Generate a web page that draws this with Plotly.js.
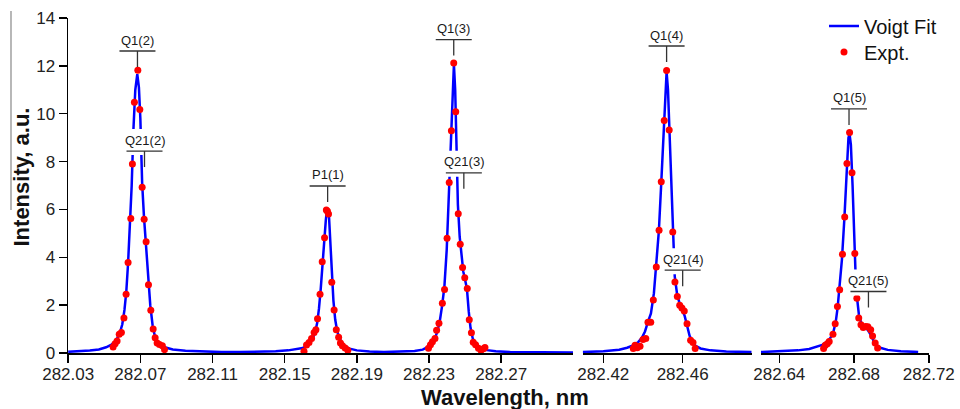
<!DOCTYPE html>
<html><head><meta charset="utf-8">
<script src="https://cdn.plot.ly/plotly-3.0.1.min.js"></script>
<style>html,body{margin:0;padding:0;background:#fff}#chart{width:960px;height:409px}</style>
</head><body><div id="chart"></div>
<script>
// ---- Voigt fit curve, segment 1 (282.03 - 282.31 nm)
const fitX1 = [282.030,282.036,282.042,282.047,282.051,282.054,282.0565,282.0585,282.0600,282.0612,
  282.0622,282.0632,282.0642,282.0652,282.0662,282.0672,282.0683,282.0692,282.0700,282.0710,
  282.0720,282.0730,282.0742,282.0755,282.0768,282.0780,282.0795,282.0815,282.0840,282.0880,
  282.0950,282.1050,282.1150,282.1250,282.1350,282.1450,282.1520,282.1570,282.1600,282.1620,
  282.1640,282.1655,282.1668,282.1680,282.1690,282.1700,282.1710,282.1720,282.1728,282.1734,
  282.1740,282.1746,282.1754,282.1762,282.1770,282.1780,282.1790,282.1800,282.1815,282.1835,
  282.1860,282.1900,282.1970,282.2050,282.2150,282.2220,282.2265,282.2290,282.2305,282.2320,
  282.2335,282.2348,282.2360,282.2372,282.2385,282.2398,282.2410,282.2422,282.2432,282.2438,
  282.2445,282.2452,282.2460,282.2470,282.2480,282.2490,282.2500,282.2510,282.2520,282.2530,
  282.2542,282.2555,282.2570,282.2590,282.2620,282.2670,282.2750,282.2900,282.3098];
const fitY1 = [0.05,0.07,0.10,0.15,0.24,0.35,0.52,0.80,1.20,1.80,
  2.55,3.75,5.10,7.00,9.40,11.00,11.65,11.10,9.80,7.10,
  5.70,4.60,3.20,2.00,1.15,0.72,0.48,0.33,0.23,0.15,
  0.09,0.05,0.04,0.04,0.05,0.07,0.11,0.16,0.21,0.29,
  0.42,0.60,0.85,1.25,1.85,2.70,3.80,4.85,5.55,5.95,
  5.95,5.65,4.50,2.95,2.20,1.40,0.95,0.70,0.45,0.28,
  0.18,0.11,0.06,0.04,0.05,0.08,0.14,0.22,0.30,0.45,
  0.65,0.95,1.35,1.95,2.75,4.30,6.80,9.00,11.50,12.05,
  11.00,8.80,6.20,4.85,4.00,3.40,3.05,2.70,1.75,1.05,
  0.62,0.40,0.27,0.18,0.12,0.07,0.04,0.03,0.02];
// ---- Voigt fit curve, segment 2 (282.41 - 282.49 nm)
const fitX2 = [282.4096,282.420,282.428,282.432,282.435,282.4375,282.4395,282.4410,282.4425,282.4440,
  282.4455,282.4468,282.4480,282.4492,282.4505,282.4513,282.4519,282.4526,282.4534,282.4543,
  282.4552,282.4560,282.4572,282.4585,282.4598,282.4610,282.4622,282.4635,282.4650,282.4665,
  282.4690,282.4740,282.4820,282.4948];
const fitY2 = [0.04,0.07,0.14,0.22,0.32,0.45,0.65,0.90,1.30,1.65,
  2.50,3.70,5.10,7.10,9.70,11.20,11.75,11.00,9.00,6.80,
  4.60,3.20,2.45,2.05,1.80,1.55,1.15,0.72,0.45,0.30,
  0.19,0.11,0.06,0.04];
// ---- Voigt fit curve, segment 3 (282.63 - 282.72 nm)
const fitX3 = [282.6302,282.640,282.650,282.656,282.660,282.663,282.6655,282.6675,282.6690,282.6702,
  282.6712,282.6722,282.6735,282.6748,282.6760,282.6770,282.6776,282.6783,282.6792,282.6800,
  282.6808,282.6816,282.6826,282.6838,282.6850,282.6862,282.6875,282.6890,282.6905,282.6920,
  282.6940,282.6980,282.7050,282.7120,282.7143];
const fitY3 = [0.04,0.06,0.11,0.17,0.25,0.34,0.46,0.65,0.90,1.30,
  1.90,2.65,3.90,5.60,7.80,9.00,9.15,8.70,7.00,5.00,
  3.30,2.30,1.60,1.25,1.10,1.05,0.95,0.75,0.50,0.33,
  0.22,0.13,0.07,0.05,0.04];

// ---- Experimental points
const expX1 = [282.0549,282.0560,282.0571,282.0583,282.0595,282.0609,282.0621,282.0632,282.0647,282.0656,
  282.0667,282.0686,282.0697,282.0710,282.0721,282.0732,282.0745,282.0758,282.0771,282.0782,
  282.0793,282.0806,282.0822,282.0834,
  282.1607,282.1621,282.1635,282.1649,282.1663,282.1673,282.1682,282.1696,282.1708,282.1721,
  282.1731,282.1737,282.1743,282.1761,282.1774,282.1786,282.1799,282.1809,282.1820,282.1835,282.1850,
  282.2297,282.2308,282.2319,282.2333,282.2342,282.2355,282.2374,282.2386,282.2400,282.2412,
  282.2424,282.2437,282.2448,282.2462,282.2473,282.2486,282.2498,282.2512,282.2523,282.2535,
  282.2545,282.2558,282.2574,282.2588,282.2602,282.2610];
const expY1 = [0.25,0.39,0.50,0.78,0.86,1.46,2.46,3.78,5.62,7.90,
  10.48,11.82,10.18,6.93,5.59,4.65,2.85,1.79,1.00,0.64,
  0.42,0.36,0.30,0.14,
  0.07,0.33,0.44,0.61,0.86,0.97,1.43,2.46,3.81,4.82,
  5.98,5.92,5.81,2.96,1.80,0.97,0.66,0.42,0.30,0.21,0.11,
  0.20,0.35,0.47,0.61,0.95,1.24,2.08,2.65,4.80,7.13,
  9.29,12.12,10.08,5.82,4.54,3.57,3.14,2.70,1.39,0.85,
  0.45,0.34,0.20,0.11,0.18,0.23];
const expX2 = [282.4351,282.4360,282.4371,282.4385,282.4400,282.4414,282.4425,282.4439,282.4452,282.4467,
  282.4481,282.4492,282.4507,282.4519,282.4532,282.4550,282.4561,282.4573,282.4585,282.4596,
  282.4608,282.4622,282.4640,282.4652,282.4663];
const expY2 = [0.19,0.32,0.22,0.28,0.56,0.61,1.28,1.29,2.22,3.59,
  5.13,7.16,9.72,11.81,9.32,5.06,2.97,2.36,2.00,1.88,
  1.76,1.22,0.53,0.44,0.19];
const expX3 = [282.6637,282.6646,282.6657,282.6667,282.6687,282.6699,282.6711,282.6723,282.6738,282.6750,
  282.6762,282.6776,282.6789,282.6804,282.6815,282.6825,282.6837,282.6849,282.6862,282.6874,
  282.6889,282.6899,282.6913,282.6926];
const expY3 = [0.19,0.32,0.39,0.48,0.78,1.22,1.94,2.64,4.13,5.68,
  7.92,9.21,7.53,4.16,2.29,1.46,1.18,1.07,1.11,1.10,
  0.97,0.71,0.42,0.21];

// ---- Line assignments
const labelText = ['Q1(2)','Q21(2)','P1(1)','Q1(3)','Q21(3)','Q1(4)','Q21(4)','Q1(5)','Q21(5)'];
const labelX = [282.0684,282.0723,282.1738,282.2437,282.2493,282.4519,282.4600,282.6773,282.6877];
const labelY = [12.62,8.44,6.98,13.10,7.53,12.83,3.46,10.20,2.57];

// ---- Tick settings
const tick0s = [282.03, 282.42, 282.64];
const tickStep = 0.04;

const FONT = 'Arial, "Liberation Sans", Helvetica, sans-serif';
const BLUE = '#0000ff', RED = '#ff0000';

const fitXs = [fitX1, fitX2, fitX3], fitYs = [fitY1, fitY2, fitY3];
const expXs = [expX1, expX2, expX3], expYs = [expY1, expY2, expY3];
const axIds = ['x', 'x2', 'x3'];

const traces = [];
for (let i = 0; i < 3; i++) {
  traces.push({x: fitXs[i], y: fitYs[i], xaxis: axIds[i], yaxis: 'y', type: 'scatter', mode: 'lines',
    line: {color: BLUE, width: 2.5}, name: 'Voigt Fit', legend: 'legend', showlegend: i === 0,
    hoverinfo: 'skip'});
}
for (let i = 0; i < 3; i++) {
  traces.push({x: expXs[i], y: expYs[i], xaxis: axIds[i], yaxis: 'y', type: 'scatter', mode: 'markers',
    marker: {color: RED, size: 7, line: {width: 0}}, name: 'Expt.', legend: 'legend2', showlegend: i === 0,
    hoverinfo: 'skip'});
}

const segRanges = [[282.0299, 282.3098], [282.4096, 282.4948], [282.6302, 282.7201]];
const L = 68, R = 31, T = 18, B = 56, W = 960, H = 409;
const pw = W - L - R, ph = H - T - B;
const segPx = [[68, 573], [582.7, 751.7], [761, 929]];

function axisFor(x) { return x < 282.35 ? 'x' : (x < 282.55 ? 'x2' : 'x3'); }

const xAxisBase = {
  showline: true, linecolor: '#000', linewidth: 1.5, ticks: 'outside', ticklen: 8, tickwidth: 1.5,
  tickcolor: '#000', showgrid: false, zeroline: false, tickmode: 'linear', dtick: tickStep,
  tickformat: '.2f', tickfont: {family: FONT, size: 17, color: '#222'}, anchor: 'y', fixedrange: true,
  automargin: false, ticklabelstandoff: -3
};

const legendBase = {xanchor: 'left', yanchor: 'middle', bgcolor: 'rgba(0,0,0,0)',
  font: {family: FONT, size: 20, color: '#111'}, borderwidth: 0};

const layout = {
  width: W, height: H, margin: {l: L, r: R, t: T, b: B, pad: 0, autoexpand: false},
  paper_bgcolor: '#fff', plot_bgcolor: '#fff', font: {family: FONT, color: '#222'},
  showlegend: true,
  legend: Object.assign({x: (824 - L) / pw, y: (353 - 26) / ph}, legendBase),
  legend2: Object.assign({x: (824 - L) / pw, y: (353 - 52) / ph}, legendBase),
  yaxis: {range: [0, 14], dtick: 2, tick0: 0, showline: true, linecolor: '#000', linewidth: 1.5,
    ticks: 'outside', ticklen: 8, tickwidth: 1.5, tickcolor: '#000', showgrid: false, zeroline: false,
    tickfont: {family: FONT, size: 17, color: '#222'}, anchor: 'x', fixedrange: true, automargin: false},
  shapes: [], annotations: []
};
for (let i = 0; i < 3; i++) {
  const key = i === 0 ? 'xaxis' : 'xaxis' + (i + 1);
  layout[key] = Object.assign({}, xAxisBase, {
    range: segRanges[i], tick0: tick0s[i],
    domain: [(segPx[i][0] - L) / pw, (segPx[i][1] - L) / pw]
  });
}

// label markers: white box, bar, tick, text
for (let k = 0; k < labelText.length; k++) {
  const ax = axisFor(labelX[k]);
  const common = {xref: ax, yref: 'y', xsizemode: 'pixel', ysizemode: 'pixel',
    xanchor: labelX[k], yanchor: labelY[k], layer: 'above'};
  layout.shapes.push(Object.assign({type: 'rect', x0: -18, x1: 18, y0: -4, y1: 22,
    fillcolor: '#fff', line: {width: 0}}, common));
  layout.shapes.push(Object.assign({type: 'line', x0: -18, x1: 18, y0: 0, y1: 0,
    line: {color: '#333', width: 1.3}}, common));
  layout.shapes.push(Object.assign({type: 'line', x0: 0, x1: 0, y0: 0, y1: -16,
    line: {color: '#333', width: 1.3}}, common));
  layout.annotations.push({x: labelX[k], y: labelY[k], xref: ax, yref: 'y', text: labelText[k],
    showarrow: false, xanchor: 'center', yanchor: 'middle', yshift: 11,
    font: {family: FONT, size: 13, color: '#1a1a1a'}});
}

// axis titles
layout.annotations.push({xref: 'paper', yref: 'paper', x: (505 - L) / pw, y: 0, yshift: -44,
  xanchor: 'center', yanchor: 'middle', showarrow: false, text: '<b>Wavelength, nm</b>',
  font: {family: FONT, size: 22, color: '#111'}});
layout.annotations.push({xref: 'paper', yref: 'paper', x: (21 - L) / pw, y: (353 - 177.5) / ph,
  xanchor: 'center', yanchor: 'middle', showarrow: false, textangle: -90, text: '<b>Intensity, a.u.</b>',
  font: {family: FONT, size: 22, color: '#111'}});
// faint vertical rule at far left
layout.shapes.push({type: 'line', xref: 'paper', yref: 'paper', x0: (11 - L) / pw, x1: (11 - L) / pw,
  y0: (353 - 210) / ph, y1: (353 - 11) / ph, line: {color: '#888', width: 1.2}});

Plotly.newPlot('chart', traces, layout, {displayModeBar: false, staticPlot: true});
</script>
</body></html>
